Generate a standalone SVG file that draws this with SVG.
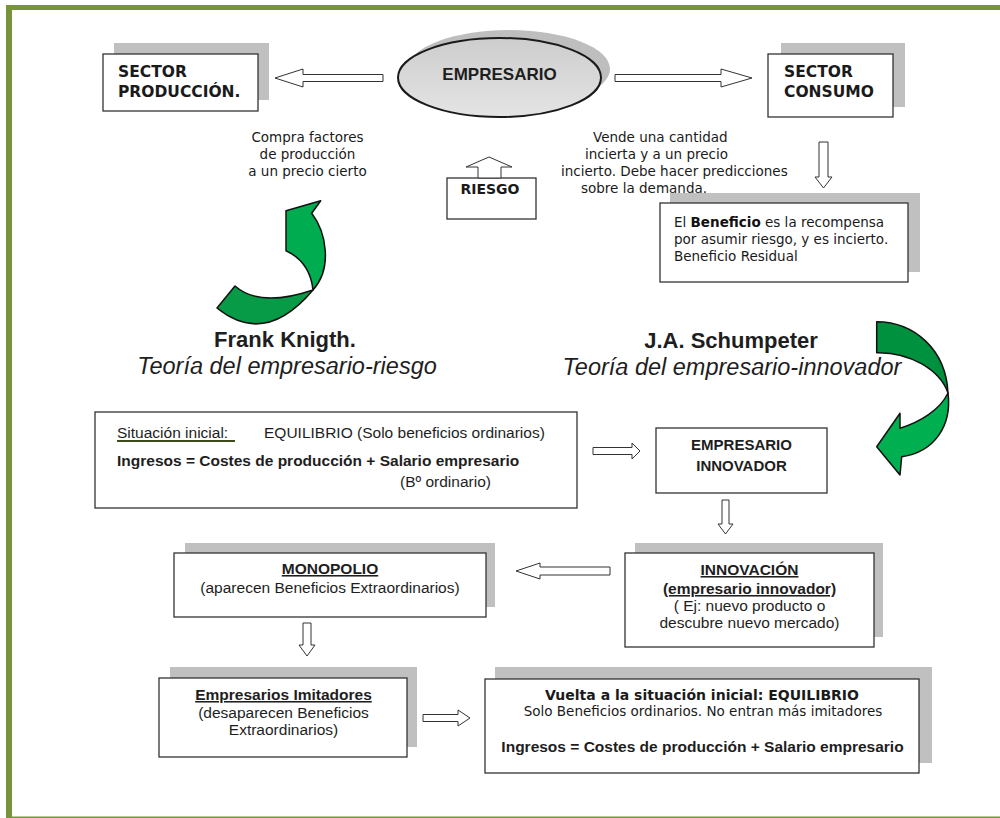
<svg xmlns="http://www.w3.org/2000/svg" width="1000" height="818" viewBox="0 0 1000 818">
  <defs>
    <linearGradient id="ovalFill" x1="0" y1="0" x2="0" y2="1">
      <stop offset="0" stop-color="#cdcdcd"/>
      <stop offset="1" stop-color="#e4e4e4"/>
    </linearGradient>
    <style>
      .frame { fill: #77933C; }
      .box { fill: #ffffff; stroke: #333333; stroke-width: 1.3; }
      .shadow { fill: #c0c0c0; }
      .barrow { fill: #ffffff; stroke: #333333; stroke-width: 1; stroke-linejoin: miter; }
      .green { stroke: #111111; stroke-width: 1.5; stroke-linejoin: round; }
      .v { font-family: "DejaVu Sans", Verdana, sans-serif; fill: #1a1a1a; }
      .a { font-family: "Liberation Sans", Arial, sans-serif; fill: #1e1e1e; }
      .vb { font-weight: bold; }
      .mid { text-anchor: middle; }
    </style>
  </defs>

  <!-- page background and olive frame -->
  <rect x="0" y="0" width="1000" height="818" fill="#ffffff"/>
  <rect class="frame" x="6" y="5" width="994" height="5"/>
  <rect class="frame" x="6" y="5" width="6" height="813"/>
  <rect class="frame" x="12" y="816.5" width="988" height="1.5"/>

  <!-- ===== Knight: risk-bearing entrepreneur ===== -->
  <g id="sector-produccion">
    <rect class="shadow" x="114" y="43" width="155" height="57"/>
    <rect class="box" x="103" y="54" width="155" height="57"/>
    <text class="v vb" x="118" y="77" font-size="15.5">SECTOR</text>
    <text class="v vb" x="118" y="97" font-size="15.5">PRODUCCIÓN.</text>
  </g>

  <g id="empresario">
    <ellipse cx="509" cy="69" rx="101" ry="39" fill="#bebebe"/>
    <ellipse cx="499.5" cy="77.5" rx="101.5" ry="39.5" fill="url(#ovalFill)" stroke="#1a1a1a" stroke-width="2"/>
    <text class="a vb mid" x="499.5" y="80" font-size="17">EMPRESARIO</text>
  </g>

  <g id="sector-consumo">
    <rect class="shadow" x="781" y="43" width="124" height="64"/>
    <rect class="box" x="768" y="54" width="125" height="63"/>
    <text class="v vb" x="784" y="77" font-size="15.5">SECTOR</text>
    <text class="v vb" x="784" y="97" font-size="15.5">CONSUMO</text>
  </g>

  <g id="compra-factores">
    <text class="v mid" x="307.5" y="142" font-size="13.5" fill="#333">Compra factores</text>
    <text class="v mid" x="307.5" y="159" font-size="13.5" fill="#333">de producción</text>
    <text class="v mid" x="307.5" y="176" font-size="13.5" fill="#333">a un precio cierto</text>
  </g>

  <g id="vende-cantidad">
    <text class="v" x="593" y="142" font-size="13.5" fill="#333">Vende una cantidad</text>
    <text class="v" x="585" y="159" font-size="13.5" fill="#333">incierta y a un precio</text>
    <text class="v" x="561" y="176" font-size="13.5" fill="#333">incierto. Debe hacer predicciones</text>
    <text class="v" x="581" y="193" font-size="13.5" fill="#333">sobre la demanda.</text>
  </g>

  <g id="riesgo">
    <rect class="box" x="447" y="178" width="89" height="41"/>
    <text class="v vb mid" x="490" y="194" font-size="14">RIESGO</text>
  </g>

  <g id="beneficio">
    <rect class="shadow" x="670" y="193" width="250" height="79"/>
    <rect class="box" x="660" y="203" width="248" height="79"/>
    <text class="v" x="674" y="227" font-size="13.5" fill="#333">El <tspan font-weight="bold" fill="#111">Beneficio</tspan> es la recompensa</text>
    <text class="v" x="674" y="244" font-size="13.5" fill="#333">por asumir riesgo, y es incierto.</text>
    <text class="v" x="674" y="261" font-size="13.5" fill="#333">Beneficio Residual</text>
  </g>

  <g id="knight-title">
    <path class="green" fill="#079A47" d="M313,290 Q265,347 217,308 L235,286 Q260,308 313,290 Z"/>
    <path class="green" fill="#00AC50" d="M286,210.7 L320.7,200.7 L311.7,213.3 C326,232 333,268 313,290 Q310,262 286,250.7 Z"/>
    <text class="a vb mid" x="285" y="347" font-size="22" fill="#111">Frank Knigth.</text>
    <text class="a mid" x="287" y="374" font-size="23.5" font-style="italic" fill="#111">Teoría del empresario-riesgo</text>
  </g>

  <!-- ===== Schumpeter: innovating entrepreneur ===== -->
  <g id="schumpeter-title">
    <path class="green" fill="#00913F" d="M876.7,321.7 C915,322 946,350 948,393 C940,370 910,352 876.7,352.7 Z"/>
    <path class="green" fill="#00B050" d="M948,393 C952,425 935,452 901.7,456.7 L900,475 L876.7,446.7 L900,413.3 L900,428.3 C920,422 940,410 948,393 Z"/>
    <text class="a vb mid" x="731" y="348" font-size="22" fill="#111">J.A. Schumpeter</text>
    <text class="a mid" x="732" y="375" font-size="23.5" font-style="italic" fill="#111">Teoría del empresario-innovador</text>
  </g>

  <g id="situacion-inicial">
    <rect class="box" x="95" y="412" width="482" height="96"/>
    <text class="a" x="117" y="438" font-size="15.5" fill="#444">Situación inicial:</text>
    <line x1="117" y1="441" x2="235" y2="441" stroke="#3d4a1c" stroke-width="2"/>
    <text class="a" x="264" y="438" font-size="15.5" fill="#333">EQUILIBRIO (Solo beneficios ordinarios)</text>
    <text class="a vb" x="117" y="466" font-size="15.5">Ingresos = Costes de producción + Salario empresario</text>
    <text class="a" x="400" y="487" font-size="15.5" fill="#333">(Bº ordinario)</text>
  </g>

  <g id="empresario-innovador">
    <rect class="box" x="656" y="428" width="171" height="65"/>
    <text class="a vb mid" x="741.5" y="450" font-size="15" fill="#333">EMPRESARIO</text>
    <text class="a vb mid" x="741.5" y="471" font-size="15" fill="#333">INNOVADOR</text>
  </g>

  <g id="innovacion">
    <rect class="shadow" x="635" y="543" width="248" height="94"/>
    <rect class="box" x="625" y="553" width="249" height="94"/>
    <text class="a vb mid" x="749.5" y="575" font-size="15.5" text-decoration="underline">INNOVACIÓN</text>
    <text class="a vb mid" x="749.5" y="594" font-size="15.5" text-decoration="underline">(empresario innovador)</text>
    <text class="a mid" x="749.5" y="611" font-size="15.5">( Ej: nuevo producto o</text>
    <text class="a mid" x="749.5" y="628" font-size="15.5">descubre nuevo mercado)</text>
  </g>

  <g id="monopolio">
    <rect class="shadow" x="185" y="543" width="310" height="64"/>
    <rect class="box" x="174" y="553" width="312" height="64"/>
    <text class="a vb mid" x="330" y="574" font-size="15.5" text-decoration="underline">MONOPOLIO</text>
    <text class="a mid" x="330" y="593" font-size="15.5">(aparecen Beneficios Extraordinarios)</text>
  </g>

  <g id="imitadores">
    <rect class="shadow" x="170" y="667" width="247" height="80"/>
    <rect class="box" x="159" y="678" width="248" height="79"/>
    <text class="a vb mid" x="283.5" y="700" font-size="15.5" text-decoration="underline">Empresarios Imitadores</text>
    <text class="a mid" x="283.5" y="718" font-size="15.5">(desaparecen Beneficios</text>
    <text class="a mid" x="283.5" y="735" font-size="15.5">Extraordinarios)</text>
  </g>

  <g id="vuelta-equilibrio">
    <rect class="shadow" x="495" y="667" width="437" height="96"/>
    <rect class="box" x="485" y="679" width="434" height="94"/>
    <text class="v vb mid" x="702" y="700" font-size="14">Vuelta a la situación inicial: EQUILIBRIO</text>
    <text class="v mid" x="703" y="716" font-size="13.5" fill="#333">Solo Beneficios ordinarios. No entran más imitadores</text>
    <text class="a vb mid" x="702.5" y="752" font-size="15.5">Ingresos = Costes de producción + Salario empresario</text>
  </g>

  <!-- hollow block arrows between the boxes -->
  <g id="connectors">
    <polygon class="barrow" points="275,78 303,69 303,74.5 383,74.5 383,81.5 303,81.5 303,87"/>
    <polygon class="barrow" points="615,74.5 721,74.5 721,69 752,78 721,87 721,81.5 615,81.5"/>
    <polygon class="barrow" points="819,142 828,142 828,177 832,177 823.5,188 815,177 819,177"/>
    <polygon class="barrow" points="478,178 478,167 466,167 489,157 512,167 501,167 501,178"/>
    <polygon class="barrow" points="593,447.5 632,447.5 632,443 640,451 632,459 632,454.5 593,454.5"/>
    <polygon class="barrow" points="722,500 729,500 729,524 733,524 725.5,534 718,524 722,524"/>
    <polygon class="barrow" points="516,571 540,563 540,567 610,567 610,575 540,575 540,579"/>
    <polygon class="barrow" points="303,623 311,623 311,645 315,645 307,656 299,645 303,645"/>
    <polygon class="barrow" points="423,714.5 458,714.5 458,710 470,718 458,726 458,721.5 423,721.5"/>
  </g>
</svg>
